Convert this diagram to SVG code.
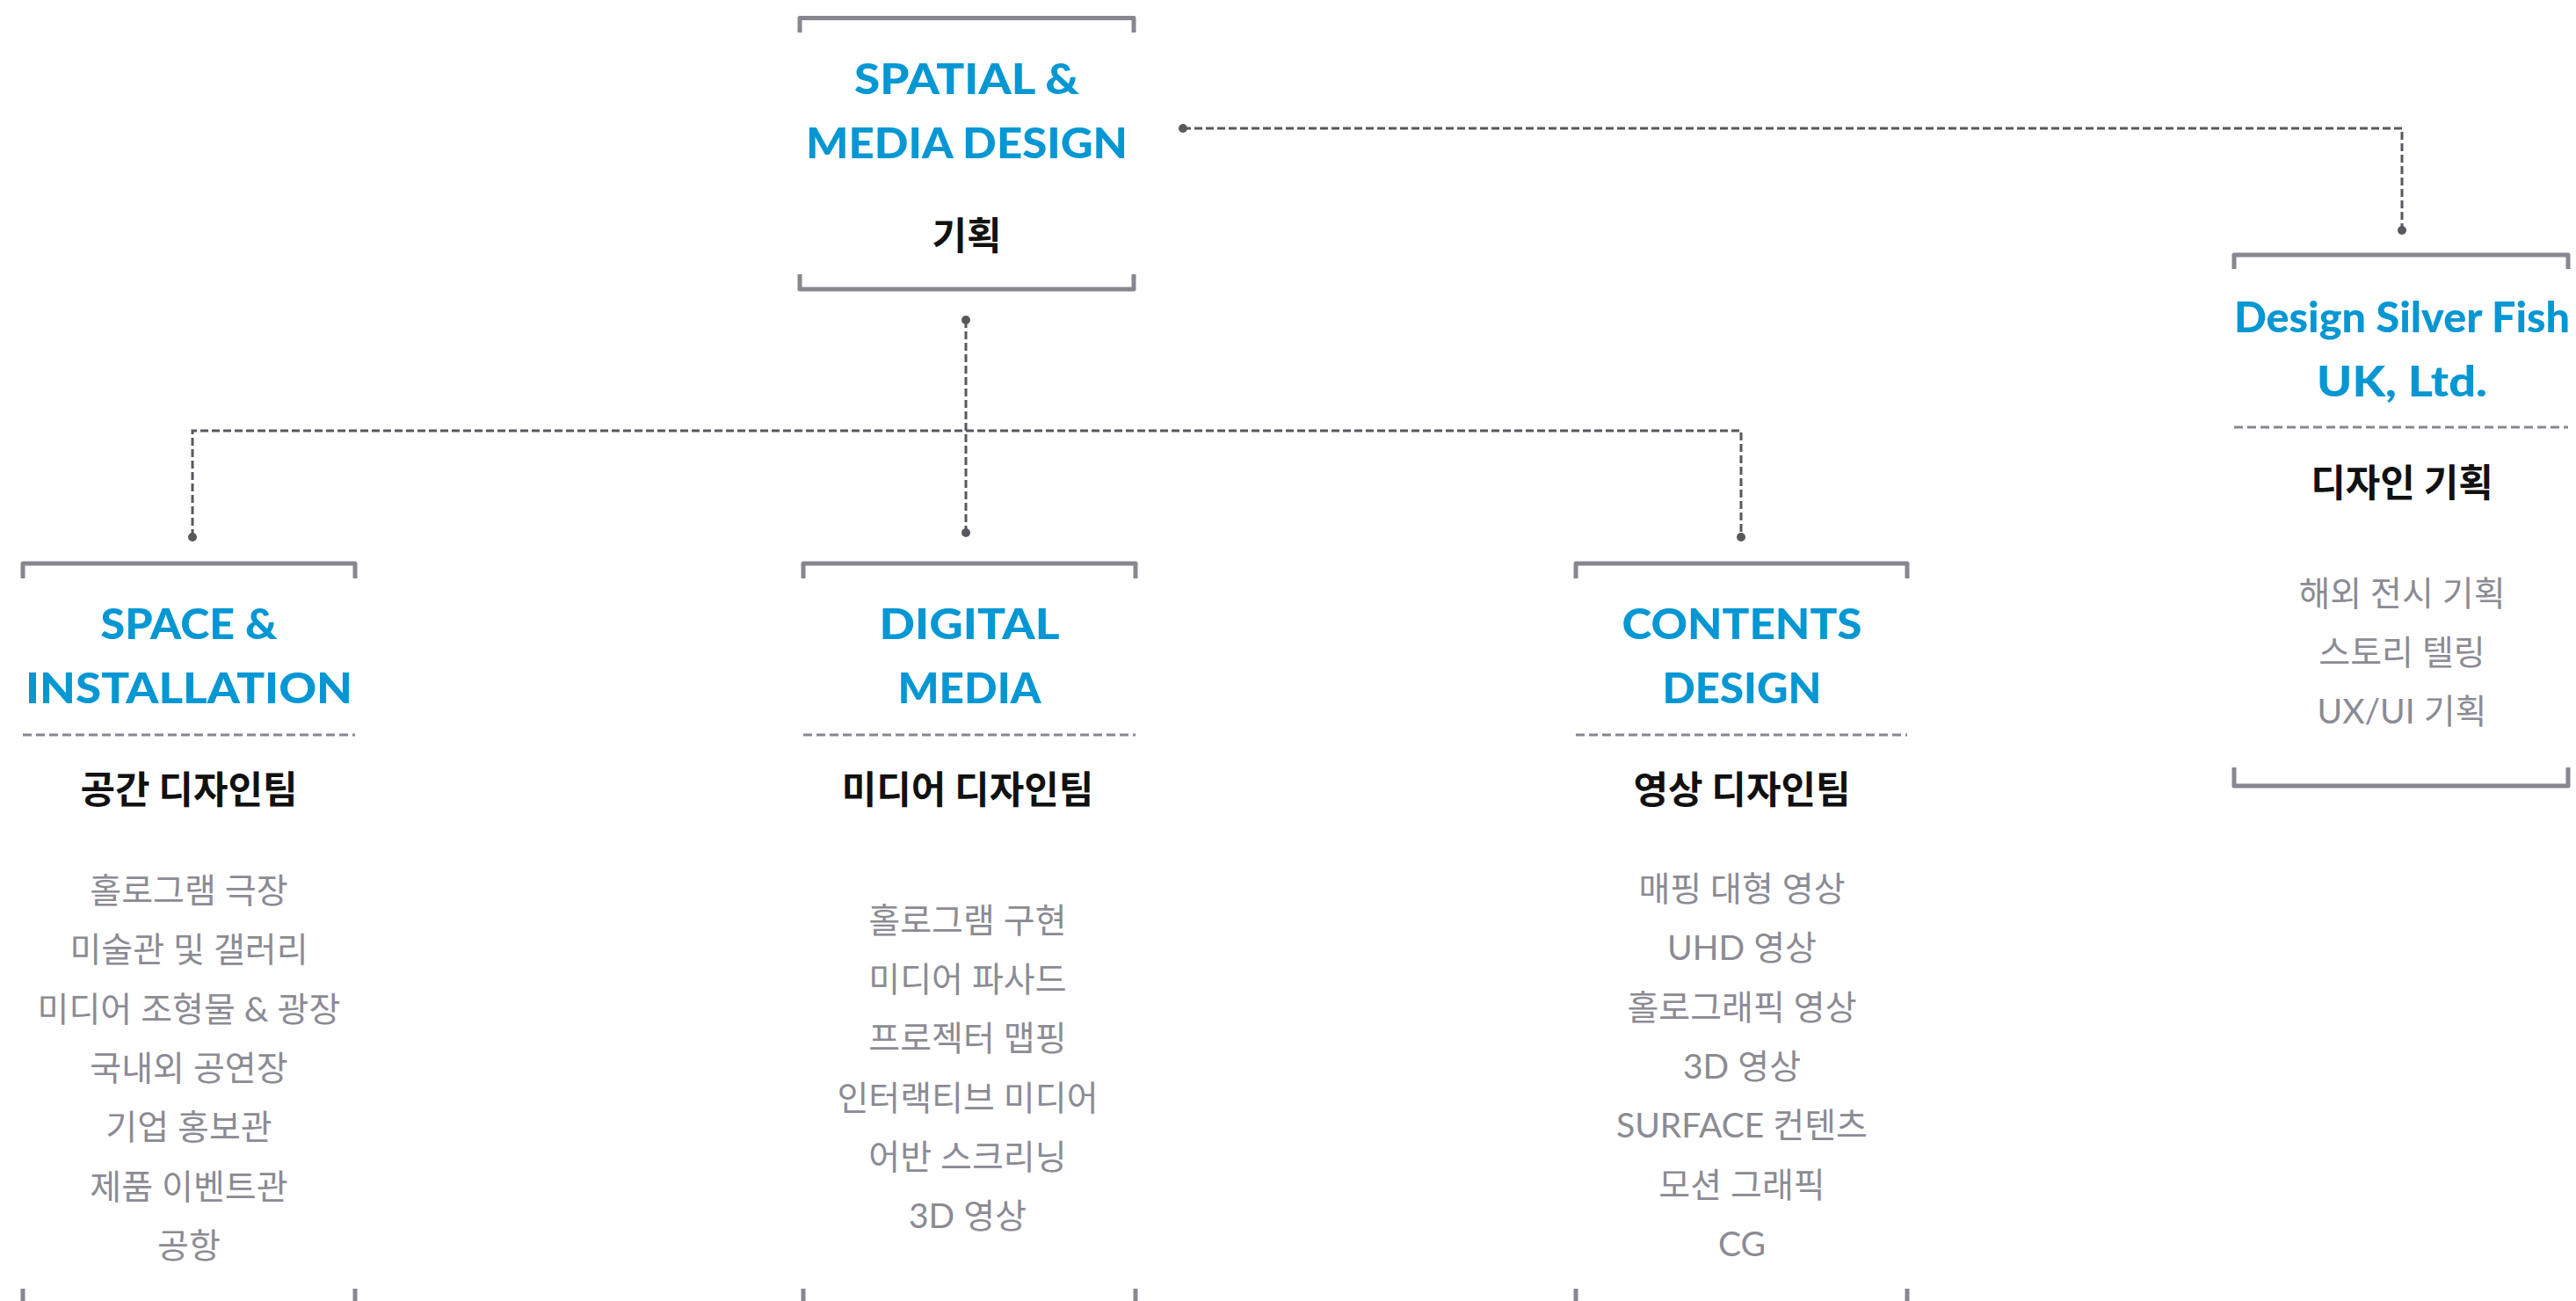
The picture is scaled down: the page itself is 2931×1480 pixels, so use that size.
<svg xmlns="http://www.w3.org/2000/svg" width="2931" height="1480" viewBox="0 0 2931 1480">
<style>
.br{fill:none;stroke:#878791;stroke-width:5;stroke-linejoin:round}
.sep{fill:none;stroke:#878791;stroke-width:3;stroke-dasharray:10 5}
.con{fill:none;stroke:#58585e;stroke-width:3;stroke-dasharray:9 4}
.dot{fill:#58585e}
.ti{font-family:"Lato","Noto Sans",sans-serif;font-weight:900;font-size:48px;fill:#0597d3;text-anchor:middle}
.hd{font-family:"Noto Sans CJK KR",sans-serif;font-weight:bold;font-size:43px;fill:#111;text-anchor:middle}
.it{font-family:"Lato","Noto Sans CJK KR",sans-serif;font-size:39px;fill:#8b8b94;text-anchor:middle}
</style>
<rect width="2931" height="1480" fill="#fff"/>
<g id="connectors">
<path class="con" d="M1346,146 H2733 V262"/>
<circle class="dot" cx="1346" cy="146" r="5"/>
<circle class="dot" cx="2733" cy="262" r="5"/>
<path class="con" d="M1099,364 V606"/>
<path class="con" d="M219,611 V490 H1981 V611"/>
<circle class="dot" cx="1099" cy="364" r="5"/>
<circle class="dot" cx="1099" cy="606" r="5"/>
<circle class="dot" cx="219" cy="611" r="5"/>
<circle class="dot" cx="1981" cy="611" r="5"/>
</g>
<g id="node-top">
<path class="br" d="M910,37 V20.5 H1290 V37"/>
<path class="br" d="M910,312 V329 H1290 V312"/>
<text class="ti" x="1100" y="107" textLength="256" lengthAdjust="spacingAndGlyphs">SPATIAL &amp;</text>
<text class="ti" x="1100" y="180" textLength="366" lengthAdjust="spacingAndGlyphs">MEDIA DESIGN</text>
<text class="hd" x="1100" y="284">기획</text>
</g>
<g id="node-space">
<path class="br" d="M26,658 V641 H404 V658"/>
<path class="br" d="M26,1466 V1490 M404,1466 V1490"/>
<text class="ti" x="215" y="727" textLength="201" lengthAdjust="spacingAndGlyphs">SPACE &amp;</text>
<text class="ti" x="215" y="800" textLength="372" lengthAdjust="spacingAndGlyphs">INSTALLATION</text>
<line class="sep" x1="26" y1="836" x2="404" y2="836"/>
<text class="hd" x="215" y="914">공간 디자인팀</text>
<text class="it" x="215" y="1027">홀로그램 극장</text>
<text class="it" x="215" y="1094">미술관 및 갤러리</text>
<text class="it" x="215" y="1162">미디어 조형물 &amp; 광장</text>
<text class="it" x="215" y="1229">국내외 공연장</text>
<text class="it" x="215" y="1296">기업 홍보관</text>
<text class="it" x="215" y="1364">제품 이벤트관</text>
<text class="it" x="215" y="1431">공항</text>
</g>
<g id="node-digital">
<path class="br" d="M914,658 V641 H1292 V658"/>
<path class="br" d="M914,1466 V1490 M1292,1466 V1490"/>
<text class="ti" x="1103" y="727" textLength="205" lengthAdjust="spacingAndGlyphs">DIGITAL</text>
<text class="ti" x="1103" y="800" textLength="163" lengthAdjust="spacingAndGlyphs">MEDIA</text>
<line class="sep" x1="914" y1="836" x2="1292" y2="836"/>
<text class="hd" x="1101" y="914">미디어 디자인팀</text>
<text class="it" x="1101" y="1061">홀로그램 구현</text>
<text class="it" x="1101" y="1128">미디어 파사드</text>
<text class="it" x="1101" y="1195">프로젝터 맵핑</text>
<text class="it" x="1101" y="1263">인터랙티브 미디어</text>
<text class="it" x="1101" y="1330">어반 스크리닝</text>
<text class="it" x="1101" y="1397">3D 영상</text>
</g>
<g id="node-contents">
<path class="br" d="M1793,658 V641 H2170 V658"/>
<path class="br" d="M1793,1466 V1490 M2170,1466 V1490"/>
<text class="ti" x="1982" y="727" textLength="273" lengthAdjust="spacingAndGlyphs">CONTENTS</text>
<text class="ti" x="1982" y="800" textLength="181" lengthAdjust="spacingAndGlyphs">DESIGN</text>
<line class="sep" x1="1793" y1="836" x2="2170" y2="836"/>
<text class="hd" x="1982" y="914">영상 디자인팀</text>
<text class="it" x="1982" y="1025">매핑 대형 영상</text>
<text class="it" x="1982" y="1092">UHD 영상</text>
<text class="it" x="1982" y="1160">홀로그래픽 영상</text>
<text class="it" x="1982" y="1227">3D 영상</text>
<text class="it" x="1982" y="1294">SURFACE 컨텐츠</text>
<text class="it" x="1982" y="1362">모션 그래픽</text>
<text class="it" x="1982" y="1429">CG</text>
</g>
<g id="node-silverfish">
<path class="br" d="M2542,306 V290 H2922 V306"/>
<path class="br" d="M2542,873 V894 H2922 V873"/>
<text class="ti" x="2733" y="378" textLength="382" lengthAdjust="spacingAndGlyphs">Design Silver Fish</text>
<text class="ti" x="2733" y="451" textLength="194" lengthAdjust="spacingAndGlyphs">UK, Ltd.</text>
<line class="sep" x1="2542" y1="486" x2="2922" y2="486"/>
<text class="hd" x="2733" y="565">디자인 기획</text>
<text class="it" x="2733" y="689">해외 전시 기획</text>
<text class="it" x="2733" y="756">스토리 텔링</text>
<text class="it" x="2733" y="823">UX/UI 기획</text>
</g>
</svg>
